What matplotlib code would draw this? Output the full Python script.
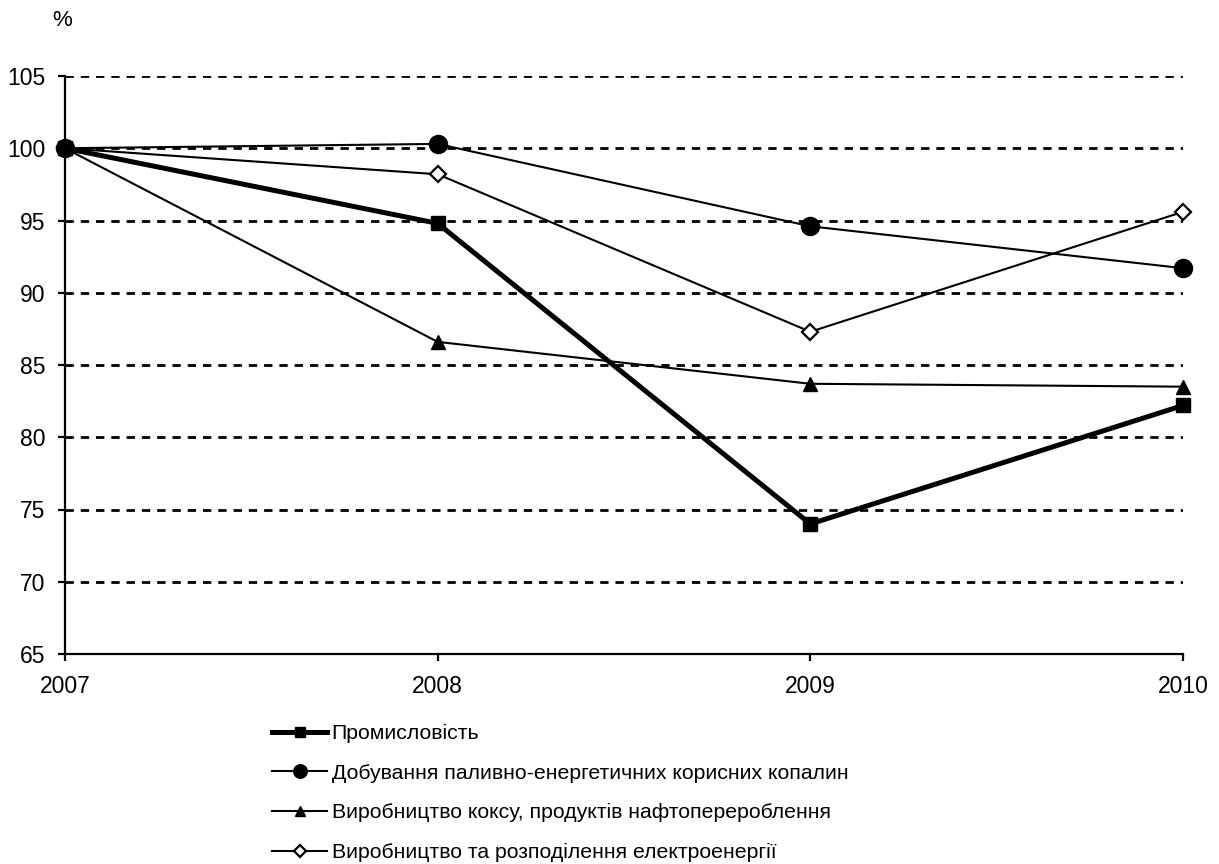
import matplotlib
matplotlib.use("Agg")
import matplotlib.pyplot as plt

plt.rcParams['font.family'] = ['Liberation Sans', 'DejaVu Sans']

years = [2007, 2008, 2009, 2010]
industry = [100.0, 94.8, 74.0, 82.2]
mining = [100.0, 100.3, 94.6, 91.7]
coke = [100.0, 86.6, 83.7, 83.5]
electricity = [100.0, 98.2, 87.3, 95.6]

labels = [
    "Промисловість",
    "Добування паливно-енергетичних корисних копалин",
    "Виробництво коксу, продуктів нафтоперероблення",
    "Виробництво та розподілення електроенергії",
]
yticks = [65, 70, 75, 80, 85, 90, 95, 100, 105]

fig = plt.figure(figsize=(12.19, 8.64), dpi=100)
ax = fig.add_axes([65/1219, 1 - 654/864, (1183 - 65)/1219, (654 - 76)/864])

ax.set_xlim(2007, 2010)
ax.set_ylim(65, 105)
ax.set_yticks(yticks)
ax.set_xticks(years)
ax.set_xticklabels([str(y) for y in years])

for y in yticks[1:]:
    ax.axhline(y, color='black', lw=2.0, dashes=(3.0, 2.5), zorder=1)

l1, = ax.plot(years, industry, color='black', lw=3.6, marker='s', ms=9.5,
              mfc='black', mec='black', mew=1, clip_on=False, zorder=5)
l2, = ax.plot(years, mining, color='black', lw=1.5, marker='o', ms=13,
              mfc='black', mec='black', mew=1, clip_on=False, zorder=4)
l3, = ax.plot(years, coke, color='black', lw=1.5, marker='^', ms=10.5,
              mfc='black', mec='black', mew=1, clip_on=False, zorder=4)
l4, = ax.plot(years, electricity, color='black', lw=1.5, marker='D', ms=8.5,
              mfc='white', mec='black', mew=1.6, clip_on=False, zorder=4)

for s in ['top', 'right']:
    ax.spines[s].set_visible(False)
for s in ['left', 'bottom']:
    ax.spines[s].set_linewidth(1.6)
    ax.spines[s].set_zorder(6)

ax.tick_params(axis='y', direction='out', length=5, width=1.6, pad=9, labelsize=16.5)
ax.tick_params(axis='x', direction='out', length=5, width=1.6, pad=10, labelsize=16.5)

fig.text(62/1219, 1 - 21/864, "%", fontsize=16, ha='center', va='center')

leg = fig.legend([l1, l2, l3, l4], labels, loc='upper left',
                 bbox_to_anchor=(272/1219, 1 - 724/864), frameon=False,
                 fontsize=15.3, handlelength=2.6, handletextpad=0.2,
                 labelspacing=0.97, borderpad=0, borderaxespad=0,
                 markerscale=0.75)

fig.savefig("out.png", dpi=100)
